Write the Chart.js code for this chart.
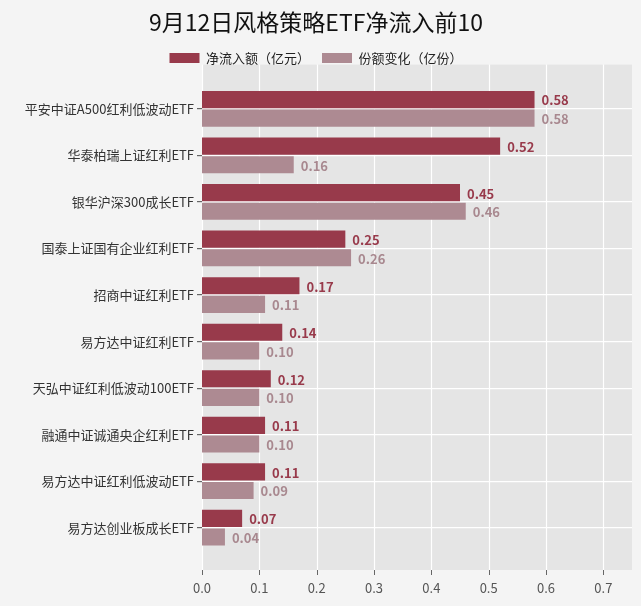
<!DOCTYPE html>
<html><head><meta charset="utf-8">
<script src="https://cdn.jsdelivr.net/npm/chart.js@4"></script>
<style>html,body{margin:0;background:#f4f4f4;}#w{width:641px;height:606px;position:relative}</style>
</head><body><div id="w"><canvas id="c"></canvas></div>
<script>
const categories=["平安中证A500红利低波动ETF","华泰柏瑞上证红利ETF","银华沪深300成长ETF","国泰上证国有企业红利ETF","招商中证红利ETF","易方达中证红利ETF","天弘中证红利低波动100ETF","融通中证诚通央企红利ETF","易方达中证红利低波动ETF","易方达创业板成长ETF"];
const netInflow=[0.58,0.52,0.45,0.25,0.17,0.14,0.12,0.11,0.11,0.07];
const shareChange=[0.58,0.16,0.46,0.26,0.11,0.10,0.10,0.10,0.09,0.04];
const xTicks=[0,0.1,0.2,0.3,0.4,0.5,0.6,0.7];
const seriesNames=["净流入额（亿元）","份额变化（亿份）"];
const c1="#983a4b",c2="#ad8a92";
const FONT="'Noto Sans CJK SC','Noto Sans',sans-serif";
const PT=21,PB=19;
const bgPlugin={id:'bg',
 afterInit(ch){const lg=ch.legend;const f=lg.fit;lg.fit=function(){f.call(this);this.height+=11;};},
 beforeDraw(ch){const a=ch.chartArea,x=ch.ctx,sx=ch.scales.x;x.save();x.fillStyle='#e5e5e5';x.fillRect(a.left,a.top-PT,a.right-a.left,a.bottom-a.top+PT+PB);
 x.strokeStyle='#fff';x.lineWidth=1.2;sx.ticks.forEach(t=>{const p=Math.round(sx.getPixelForValue(t.value))+0.5;x.beginPath();x.moveTo(p,a.top-PT);x.lineTo(p,a.bottom+PB);x.stroke();});
 x.strokeStyle='#666';x.lineWidth=1;sx.ticks.forEach(t=>{const p=Math.round(sx.getPixelForValue(t.value))+0.5;x.beginPath();x.moveTo(p,a.bottom+PB);x.lineTo(p,a.bottom+PB+5);x.stroke();});
 x.restore();}};
const lblPlugin={id:'lbl',afterDatasetsDraw(ch){const x=ch.ctx;x.save();x.font="bold 13px "+FONT;x.textBaseline='middle';
ch.data.datasets.forEach((d,i)=>{x.fillStyle=i?'#a8888f':c1;ch.getDatasetMeta(i).data.forEach((b,j)=>{x.fillText(d.data[j].toFixed(2),b.x+7,b.y+1);});});x.restore();}};
new Chart(document.getElementById('c'),{type:'bar',
data:{labels:categories,datasets:[
{label:seriesNames[0],data:netInflow,backgroundColor:c1,categoryPercentage:0.8,barPercentage:0.92},
{label:seriesNames[1],data:shareChange,backgroundColor:c2,categoryPercentage:0.8,barPercentage:0.92}]},
options:{indexAxis:'y',responsive:true,maintainAspectRatio:false,animation:false,
layout:{padding:{left:0,right:9,top:4,bottom:0}},
plugins:{title:{display:true,text:'9月12日风格策略ETF净流入前10',font:{family:FONT,size:23,weight:'normal'},color:'#111',padding:{top:4,bottom:4}},
legend:{labels:{font:{family:FONT,size:13},color:'#222',boxWidth:30,boxHeight:10,padding:12},padding:0},tooltip:{enabled:false}},
scales:{x:{min:0,max:0.75,afterBuildTicks:s=>{s.ticks=xTicks.map(v=>({value:v}));},afterFit:s=>{s.height=55;},ticks:{padding:21,callback:v=>v.toFixed(1),font:{family:FONT,size:13},color:'#555'},grid:{display:false},border:{display:false}},
y:{afterFit:s=>{s.width=202;},ticks:{font:{family:FONT,size:13},color:'#333'},grid:{offset:false,color:'#fff',lineWidth:1.2,tickLength:5,tickColor:'#666'},border:{display:false}}}},
plugins:[bgPlugin,lblPlugin]});
</script></body></html>
